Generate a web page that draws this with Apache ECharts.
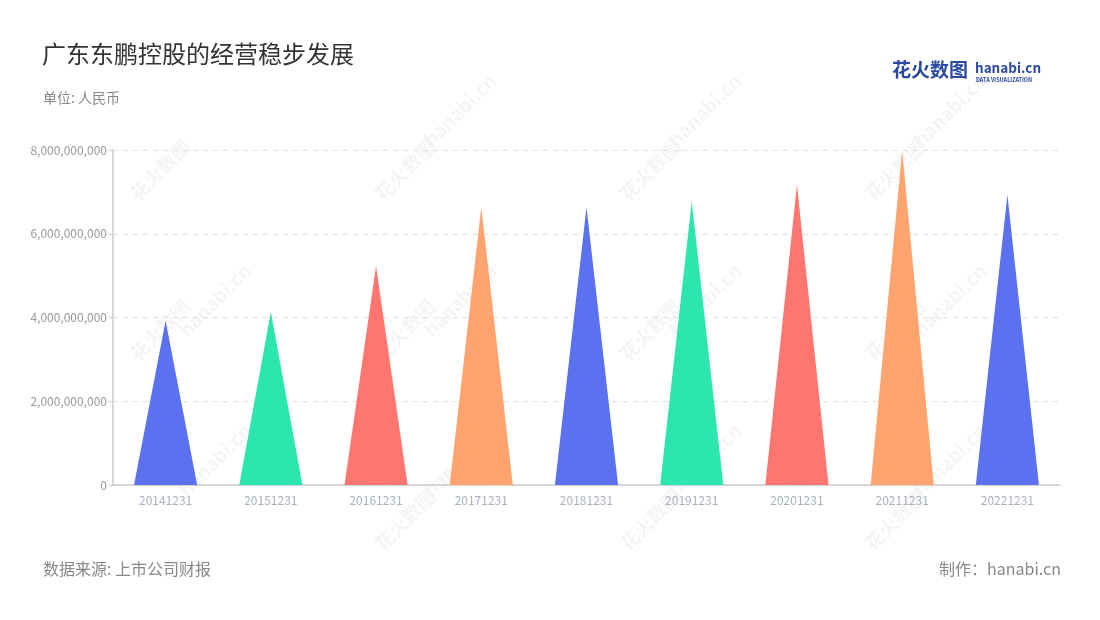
<!DOCTYPE html>
<html>
<head>
<meta charset="utf-8">
<script src="https://cdn.jsdelivr.net/npm/echarts@6/dist/echarts.min.js"></script>
<style>
html,body{margin:0;padding:0;background:#fff;}
#main{width:1100px;height:620px;}
</style>
</head>
<body>
<div id="main"></div>
<script>
const categories = ['20141231','20151231','20161231','20171231','20181231','20191231','20201231','20211231','20221231'];
const revenue = [3920000000, 4130000000, 5230000000, 6630000000, 6630000000, 6770000000, 7170000000, 7990000000, 6930000000];
const yTicks = [0, 2000000000, 4000000000, 6000000000, 8000000000];
const palette = ['#5a72ef', '#2ce6ae', '#ff7671', '#ffa36f'];

const font = '"Noto Sans CJK SC", "Noto Sans", sans-serif';

const watermarks = [];
const wmPos = [
  [160,170,'花火数图'],[405,170,'花火数图'],[650,170,'花火数图'],[895,170,'花火数图'],
  [215,300,'hanabi.cn'],[460,300,'hanabi.cn'],[705,300,'hanabi.cn'],[950,300,'hanabi.cn'],
  [160,330,'花火数图'],[405,330,'花火数图'],[650,330,'花火数图'],[895,330,'花火数图'],
  [215,460,'hanabi.cn'],[460,460,'hanabi.cn'],[705,460,'hanabi.cn'],[950,460,'hanabi.cn'],
  [405,520,'花火数图'],[650,520,'花火数图'],[895,520,'花火数图'],
  [460,110,'hanabi.cn'],[705,110,'hanabi.cn'],[950,110,'hanabi.cn']
];
wmPos.forEach(p => {
  watermarks.push({
    type: 'text', x: p[0], y: p[1], rotation: Math.PI/4, z: -1, silent: true,
    style: { text: p[2], fill: 'rgba(0,0,0,0.045)', font: 'bold 19px ' + font, align: 'center', verticalAlign: 'middle' }
  });
});

const chart = echarts.init(document.getElementById('main'));
chart.setOption({
  backgroundColor: '#fff',
  animation: false,
  title: [
    { text: '广东东鹏控股的经营稳步发展', left: 37, top: 37, textStyle: { fontFamily: font, fontSize: 24, fontWeight: 'normal', color: '#333' } },
    { text: '单位: 人民币', left: 38, top: 86, textStyle: { fontFamily: font, fontSize: 14, fontWeight: 'normal', color: '#888' } },
    { text: '数据来源: 上市公司财报', left: 38, top: 556, textStyle: { fontFamily: font, fontSize: 16, fontWeight: 'normal', color: '#888' } },
    { text: '制作：hanabi.cn', right: 34, top: 556, textStyle: { fontFamily: font, fontSize: 16, fontWeight: 'normal', color: '#888' } }
  ],
  graphic: watermarks.concat([
    { type: 'text', left: 892, top: 60, style: { text: '花火数图', fill: '#2a4aa0', font: 'bold 19px ' + font } },
    { type: 'text', left: 975, top: 61, style: { text: 'hanabi.cn', fill: '#2a4aa0', font: 'bold 13.5px ' + font } },
    { type: 'text', left: 976, top: 77, style: { text: 'DATA VISUALIZATION', fill: '#2a4aa0', font: 'bold 5.5px ' + font } }
  ]),
  grid: { left: 113, right: 40, top: 150, bottom: 135 },
  xAxis: {
    type: 'category',
    data: categories,
    axisLine: { lineStyle: { color: '#cccccc', width: 1.5 } },
    axisTick: { alignWithLabel: true, lineStyle: { color: '#cccccc' } },
    axisLabel: { color: '#a8afbe', fontSize: 12, fontFamily: font, margin: 9 }
  },
  yAxis: {
    type: 'value',
    min: 0, max: 8000000000, interval: 2000000000,
    axisLine: { show: true, lineStyle: { color: '#cccccc', width: 1.5 } },
    axisTick: { show: true, length: 4, lineStyle: { color: '#cccccc' } },
    axisLabel: { color: '#999', fontSize: 12, fontFamily: font, margin: 6,
      formatter: v => yTicks.includes(v) ? v.toLocaleString('en-US') : '' },
    splitLine: { lineStyle: { type: [5, 5], color: '#e0e0e0' } }
  },
  series: [{
    type: 'pictorialBar',
    symbol: 'path://M0,100 L50,0 L100,100 Z',
    barCategoryGap: '40%',
    data: revenue,
    itemStyle: { color: p => palette[p.dataIndex % palette.length] }
  }]
});
</script>
</body>
</html>
